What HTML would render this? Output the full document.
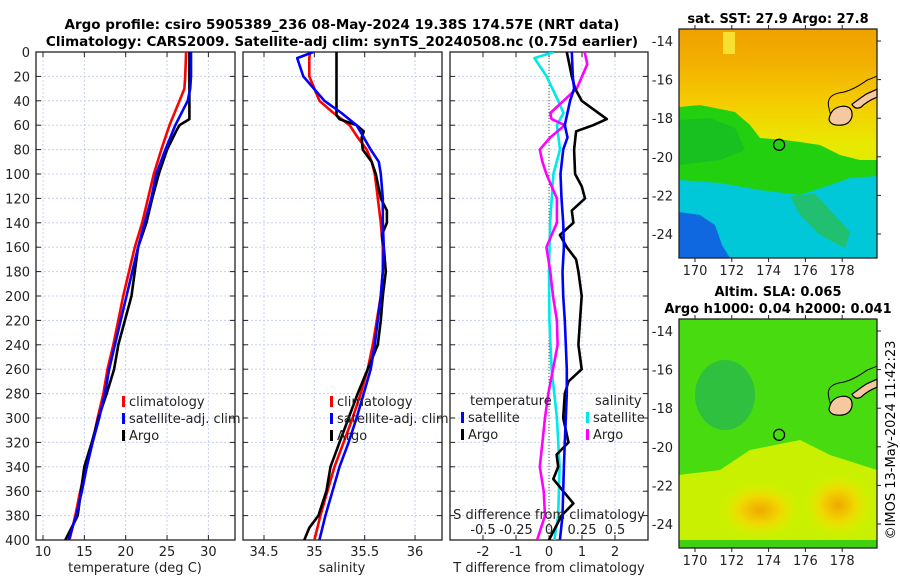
<!DOCTYPE html>
<html><head><meta charset="utf-8"><style>
html,body{margin:0;padding:0;background:#fff;}
svg{display:block;font-family:"DejaVu Sans","Liberation Sans",sans-serif;}
</style></head><body>
<svg id="fig" width="900" height="580" viewBox="0 0 900 580" xmlns="http://www.w3.org/2000/svg">
<defs>
<linearGradient id="sstbg" x1="0" y1="0" x2="0" y2="1">
<stop offset="0" stop-color="#f0a000"/><stop offset="0.15" stop-color="#f2b000"/><stop offset="0.32" stop-color="#f5cc00"/><stop offset="0.5" stop-color="#e8e800"/><stop offset="0.7" stop-color="#d8f000"/><stop offset="1" stop-color="#d8f000"/>
</linearGradient>
<radialGradient id="sla1" cx="0.5" cy="0.5" r="0.5"><stop offset="0" stop-color="#f0a800"/><stop offset="0.5" stop-color="#f0d800"/><stop offset="1" stop-color="#e0f000" stop-opacity="0"/></radialGradient>
<clipPath id="c1"><rect x="36" y="52" width="199" height="488"/></clipPath>
<clipPath id="c2"><rect x="243" y="52" width="199" height="488"/></clipPath>
<clipPath id="c3"><rect x="450" y="52" width="198" height="488"/></clipPath>
<clipPath id="m1"><rect x="679" y="29" width="198" height="229"/></clipPath>
<clipPath id="m2"><rect x="679" y="319" width="198" height="229"/></clipPath>
</defs>
<text x="342" y="29" font-size="13.5" font-weight="bold" text-anchor="middle">Argo profile: csiro 5905389_236 08-May-2024 19.38S 174.57E (NRT data)</text>
<text x="342" y="46" font-size="13.5" font-weight="bold" text-anchor="middle">Climatology: CARS2009. Satellite-adj clim: synTS_20240508.nc (0.75d earlier)</text>
<g id="p1"></g>
<g id="p2"></g>
<g id="p3"></g>
<g id="map1"></g>
<g id="map2"></g>
<text transform="translate(895,440) rotate(-90)" font-size="13" text-anchor="middle">©IMOS 13-May-2024 11:42:23</text>
</svg>
<script>
const depths = [0,20,30,40,60,80,100,120,140,160,180,200,220,240,260,280,300,320,340,360,380,400];
const tempClim = [27.3,27.2,27.1,26.5,25.3,24.3,23.4,22.7,22.0,21.1,20.4,19.7,19.1,18.5,17.8,17.3,16.6,16.0,15.2,14.5,13.9,13.2];
const tempSat  = [27.9,27.9,27.8,27.5,26.0,24.8,23.7,23.1,22.3,21.5,20.8,20.1,19.4,18.7,18.0,17.5,16.8,16.0,15.3,14.7,14.0,13.1];
const argoTDepth = [0,20,40,55,60,65,80,100,120,140,160,180,200,220,240,260,280,300,320,340,360,380,400];
const argoTemp   = [27.7,27.7,27.7,27.7,26.5,26.1,25.0,24.0,23.2,22.5,21.5,21.1,20.7,19.9,19.1,18.6,17.7,16.7,15.9,15.0,14.6,14.2,12.7];
const salDepth = [0,5,20,40,50,60,70,80,90,100,120,140,160,180,200,220,240,260,280,300,320,340,360,380,400];
const salClim = [34.96,34.95,34.95,35.05,35.19,35.35,35.43,35.52,35.57,35.60,35.63,35.66,35.68,35.68,35.66,35.62,35.58,35.53,35.46,35.38,35.29,35.20,35.13,35.06,35.00];
const salSat  = [34.99,34.83,34.89,35.10,35.27,35.42,35.49,35.56,35.64,35.66,35.68,35.68,35.69,35.68,35.66,35.63,35.60,35.56,35.49,35.42,35.34,35.25,35.18,35.11,35.05];
const argoSDepth = [0,52,55,60,65,70,80,90,100,120,130,140,150,160,180,200,220,240,260,280,300,320,340,360,380,390,400];
const argoSal = [35.22,35.22,35.25,35.42,35.49,35.47,35.48,35.57,35.61,35.66,35.72,35.72,35.67,35.69,35.71,35.68,35.66,35.63,35.53,35.43,35.34,35.25,35.16,35.12,35.04,34.95,34.90];
const dTsatDepth = [0,20,30,40,60,70,80,100,120,140,160,180,200,220,240,260,280,300,320,340,360,380,400];
const dTsat = [0.69,0.72,0.76,0.64,0.48,0.56,0.43,0.35,0.38,0.43,0.45,0.41,0.43,0.48,0.51,0.54,0.54,0.51,0.48,0.45,0.43,0.41,0.33];
const dTargoDepth = [0,20,30,40,55,60,65,80,100,110,120,130,140,150,160,170,180,200,220,240,260,270,280,300,320,330,340,350,360,370,380,400];
const dTargo = [0.54,0.69,0.79,0.99,1.75,1.34,0.82,0.76,0.79,0.99,1.09,0.69,0.74,0.33,0.54,0.82,0.89,0.99,0.94,0.89,0.99,0.59,0.48,0.43,0.59,0.23,0.28,0.13,0.43,0.74,0.38,0.0];
const dSsatDepth = [0,5,20,40,50,60,80,100,140,180,220,260,280,300,340,380,400];
const dSsat = [0.038,-0.11,-0.018,0.07,0.11,0.06,0.083,0.033,0.008,0.0,0.003,0.02,0.04,0.06,0.08,0.07,0.04];
const dSargoDepth = [0,10,30,40,50,55,60,70,80,90,100,110,120,140,150,160,180,200,220,240,260,280,300,320,340,360,380,400];
const dSargo = [0.27,0.29,0.21,0.11,0.01,0.02,0.12,0.01,-0.07,-0.05,-0.02,0.02,0.06,0.06,0.02,-0.02,0.01,0.03,0.06,0.065,0.03,-0.005,-0.03,-0.05,-0.07,-0.04,-0.03,-0.09];
const depthTicks = [0,20,40,60,80,100,120,140,160,180,200,220,240,260,280,300,320,340,360,380,400];
const tempTicks = [10,15,20,25,30];
const salTicks = [34.5,35,35.5,36];
const dTTicks = [-2,-1,0,1,2];
const dSTicks = [-0.5,-0.25,0,0.25,0.5];
const lonTicks = [170,172,174,176,178];
const latTicks = [-14,-16,-18,-20,-22,-24];

const NS="http://www.w3.org/2000/svg";
function mk(p,tag,at,txt){const e=document.createElementNS(NS,tag);for(const k in at)e.setAttribute(k,at[k]);if(txt!==undefined)e.textContent=txt;p.appendChild(e);return e;}
const Y0=52,Y1=540;
const yD=d=>Y0+(d/400)*(Y1-Y0);

function frame(g,x0,x1,xs,ticks,fmt,showY){
  depthTicks.forEach(d=>{
    const gl=mk(g,'line',{x1:x0,x2:x1,y1:yD(d),y2:yD(d),stroke:'#c8d0f0','stroke-width':1,'stroke-dasharray':'2,2'});
    
    mk(g,'line',{x1:x0,x2:x0+5,y1:yD(d),y2:yD(d),stroke:'#222'});
    mk(g,'line',{x1:x1-5,x2:x1,y1:yD(d),y2:yD(d),stroke:'#222'});
    if(showY){const t=mk(g,'text',{x:x0-6,y:yD(d)+5,'font-size':13,'text-anchor':'end',fill:'#222'},String(d));
      }
  });
  ticks.forEach(v=>{
    const X=xs(v);
    const gl=mk(g,'line',{x1:X,x2:X,y1:Y0,y2:Y1,stroke:'#c8d0f0','stroke-width':1,'stroke-dasharray':'2,2'});
    
    mk(g,'line',{x1:X,x2:X,y1:Y0,y2:Y0+5,stroke:'#222'});
    mk(g,'line',{x1:X,x2:X,y1:Y1-5,y2:Y1,stroke:'#222'});
    const t=mk(g,'text',{x:X,y:556,'font-size':13,'text-anchor':'middle',fill:'#222'},fmt(v));
    
  });
  const r=mk(g,'rect',{x:x0,y:Y0,width:x1-x0,height:Y1-Y0,fill:'none',stroke:'#222','stroke-width':1.3});
  
}
function line(g,xs,vals,ds,color,name,clip){
  const pts=vals.map((v,i)=>xs(v).toFixed(1)+','+yD(ds[i]).toFixed(1)).join(' ');
  const p=mk(g,'polyline',{points:pts,fill:'none',stroke:color,'stroke-width':2.6,'stroke-linejoin':'round','clip-path':clip});
  
}
function legend(g,x,y,items){
  items.forEach((it,i)=>{
    const yy=y+i*17;
    mk(g,'rect',{x:x,y:yy-10,width:3,height:11,fill:it[1]});
    const t=mk(g,'text',{x:x+7,y:yy,'font-size':13,fill:'#222'},it[0]);
    
  });
}
// Panel 1
const g1=document.getElementById('p1');
const xT=v=>43+(v-10)*8.27;
frame(g1,36,235,xT,tempTicks,String,true);
line(g1,xT,tempClim,depths,'#ff0000','temp-climatology-line','url(#c1)');
line(g1,xT,argoTemp,argoTDepth,'#000','temp-argo-line','url(#c1)');
line(g1,xT,tempSat,depths,'#0000ff','temp-satellite-line','url(#c1)');
legend(g1,122,406,[['climatology','#ff0000'],['satellite-adj. clim','#0000ff'],['Argo','#000']]);
mk(g1,'text',{x:135,y:572,'font-size':13,'text-anchor':'middle',fill:'#222'},'temperature (deg C)');
// Panel 2
const g2=document.getElementById('p2');
const xS=v=>264+(v-34.5)*100.7;
frame(g2,243,442,xS,salTicks,String,false);
line(g2,xS,salClim,salDepth,'#ff0000','sal-climatology-line','url(#c2)');
line(g2,xS,argoSal,argoSDepth,'#000','sal-argo-line','url(#c2)');
line(g2,xS,salSat,salDepth,'#0000ff','sal-satellite-line','url(#c2)');
legend(g2,330,406,[['climatology','#ff0000'],['satellite-adj. clim','#0000ff'],['Argo','#000']]);
mk(g2,'text',{x:342,y:572,'font-size':13,'text-anchor':'middle',fill:'#222'},'salinity');
// Panel 3
const g3=document.getElementById('p3');
const xdT=v=>549+v*33;
const xdS=v=>549+v*132;
frame(g3,450,648,xdT,dTTicks,String,false);
mk(g3,'line',{x1:549,x2:549,y1:Y0,y2:Y1,stroke:'#555','stroke-dasharray':'1,2'});
line(g3,xdS,dSsat,dSsatDepth,'#00e8e8','sal-diff-satellite-line','url(#c3)');
line(g3,xdS,dSargo,dSargoDepth,'#ff00ff','sal-diff-argo-line','url(#c3)');
line(g3,xdT,dTargo,dTargoDepth,'#000','temp-diff-argo-line','url(#c3)');
line(g3,xdT,dTsat,dTsatDepth,'#0000ff','temp-diff-satellite-line','url(#c3)');
mk(g3,'text',{x:470,y:405,'font-size':13,fill:'#222'},'temperature');
legend(g3,461,422,[['satellite','#0000ff'],['Argo','#000']]);
mk(g3,'text',{x:595,y:405,'font-size':13,fill:'#222'},'salinity');
legend(g3,586,422,[['satellite','#00e8e8'],['Argo','#ff00ff']]);
mk(g3,'text',{x:549,y:519,'font-size':13,'text-anchor':'middle',fill:'#222'},'S difference from climatology');
dSTicks.forEach(v=>{const t=mk(g3,'text',{x:xdS(v),y:534,'font-size':13,'text-anchor':'middle',fill:'#222'},String(v));});
mk(g3,'text',{x:549,y:572,'font-size':13,'text-anchor':'middle',fill:'#222'},'T difference from climatology');

// Maps
function mapAxes(g,y0,y1,lat14,lat24,lonLabY){
  const lx=v=>695+(v-170)*18.4;
  const ly=v=>lat14+(-14-v)*(lat24-lat14)/10;
  mk(g,'rect',{x:679,y:y0,width:198,height:y1-y0,fill:'none',stroke:'#222','stroke-width':1.3});
  lonTicks.forEach(v=>{mk(g,'line',{x1:lx(v),x2:lx(v),y1:y1,y2:y1+4,stroke:'#222'});mk(g,'line',{x1:lx(v),x2:lx(v),y1:y0-4,y2:y0,stroke:'#222'});
    const t=mk(g,'text',{x:lx(v),y:lonLabY,'font-size':13,'text-anchor':'middle',fill:'#222'},String(v));});
  latTicks.forEach(v=>{mk(g,'line',{x1:877,x2:881,y1:ly(v),y2:ly(v),stroke:'#222'});
    const t=mk(g,'text',{x:673,y:ly(v)+5,'font-size':13,'text-anchor':'end',fill:'#222'},String(v));});
  const c=ly(-18);
  mk(g,'path',{d:`M829 ${c-10} q-4 -14 14 -16 q10 -2 24 -12 l10 -4 M829 ${c-10} q2 14 14 14`,fill:'none',stroke:'#000','stroke-width':1});
  mk(g,'path',{d:`M829 ${c+1} q2 -12 14 -13 q10 0 9 10 q-2 9 -13 9 q-9 0 -10 -6 z`,fill:'#f5c8a0',stroke:'#000','stroke-width':1.2});
  mk(g,'path',{d:`M852 ${c-14} q8 -6 14 -10 l11 -5 l0 8 q-10 4 -16 10 q-6 3 -9 -3 z`,fill:'#f5c8a0',stroke:'#000','stroke-width':1.2});
  mk(g,'circle',{cx:lx(174.57),cy:ly(-19.38),r:5.5,fill:'none',stroke:'#000','stroke-width':1.3});
}
const m1=document.getElementById('map1');
const gm1=mk(m1,'g',{'clip-path':'url(#m1)'});
mk(gm1,'rect',{x:679,y:29,width:198,height:229,fill:'url(#sstbg)'});
mk(gm1,'path',{d:'M679 107 L700 105 L715 108 L735 112 L750 125 L760 138 L785 140 L800 142 L820 145 L840 155 L860 160 L877 160 L877 258 L679 258 Z',fill:'#22d010'});
mk(gm1,'path',{d:'M679 120 L710 118 L735 128 L745 150 L720 160 L679 165 Z',fill:'#18c020'});
mk(gm1,'path',{d:'M679 180 L720 183 L760 190 L800 195 L830 185 L850 178 L877 176 L877 258 L679 258 Z',fill:'#00c8d8'});
mk(gm1,'path',{d:'M790 196 L815 194 L830 210 L850 232 L845 248 L820 235 L800 215 Z',fill:'#20c070'});
mk(gm1,'path',{d:'M679 212 L700 215 L715 225 L722 245 L730 258 L679 258 Z',fill:'#1068e0'});
mk(gm1,'rect',{x:723,y:32,width:12,height:22,fill:'#f8e030'});
mapAxes(m1,29,258,41,234,275);
mk(m1,'text',{x:778,y:23,'font-size':13,'font-weight':'bold','text-anchor':'middle'},'sat. SST: 27.9 Argo: 27.8');
const m2=document.getElementById('map2');
const gm2=mk(m2,'g',{'clip-path':'url(#m2)'});
mk(gm2,'rect',{x:679,y:319,width:198,height:229,fill:'#48dc10'});
mk(gm2,'ellipse',{cx:725,cy:395,rx:30,ry:35,fill:'#30c040'});
mk(gm2,'path',{d:'M679 475 L720 470 L750 450 L800 440 L830 455 L877 470 L877 548 L679 548 Z',fill:'#c8f000'});
mk(gm2,'ellipse',{cx:760,cy:510,rx:42,ry:28,fill:'url(#sla1)'});
mk(gm2,'ellipse',{cx:838,cy:505,rx:35,ry:32,fill:'url(#sla1)'});
mk(gm2,'rect',{x:679,y:540,width:198,height:8,fill:'#40d010'});
mapAxes(m2,319,548,331,524,565);
mk(m2,'text',{x:778,y:296,'font-size':13,'font-weight':'bold','text-anchor':'middle'},'Altim. SLA: 0.065');
mk(m2,'text',{x:778,y:313,'font-size':13,'font-weight':'bold','text-anchor':'middle'},'Argo h1000: 0.04 h2000: 0.041');
</script>
</body></html>
